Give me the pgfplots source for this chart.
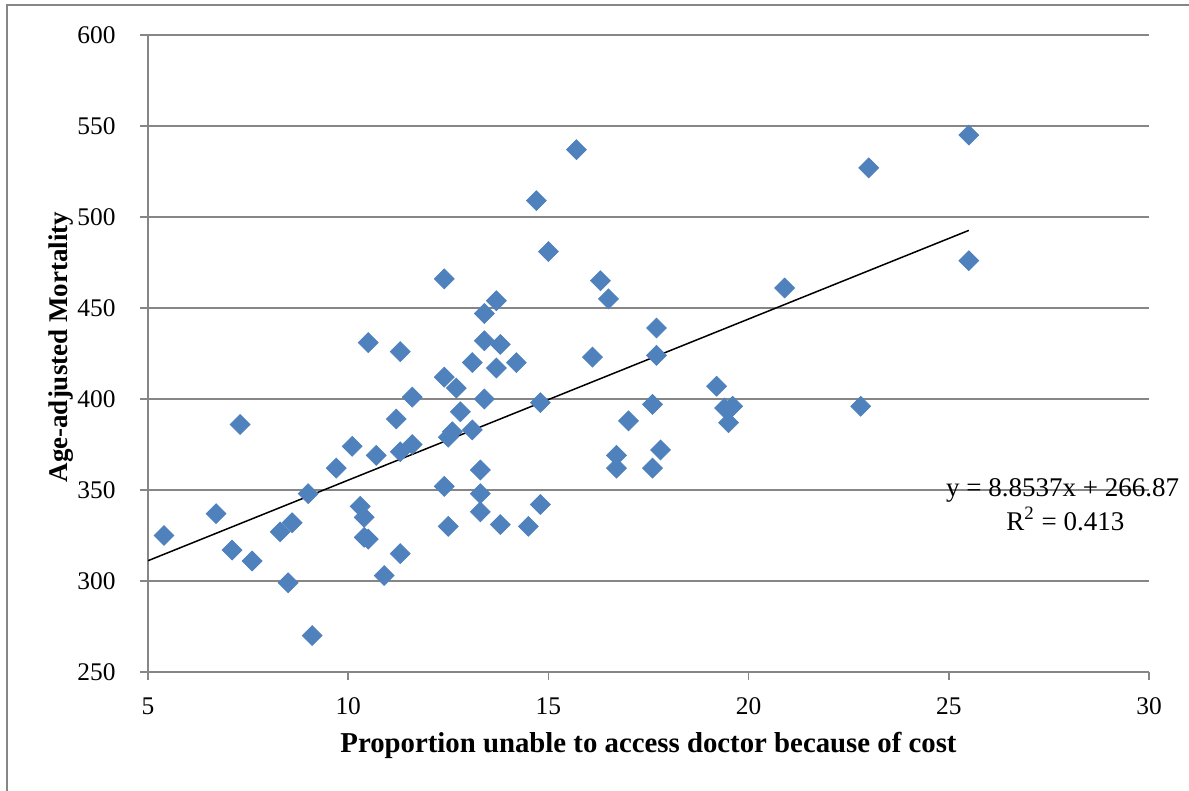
\documentclass[border=0pt]{standalone}
\usepackage{fontspec}
\setmainfont{Liberation Serif}
\usepackage{pgfplots}
\pgfplotsset{compat=1.18}
\definecolor{gridc}{RGB}{134,134,134}
\definecolor{ptc}{RGB}{79,129,189}
\begin{document}
\begin{tikzpicture}
\useasboundingbox (0,0) rectangle (594.5pt,395.5pt);
\draw[gridc, line width=0.75pt] (3.5pt,0) -- (3.5pt,393pt) -- (594.5pt,393pt);
\begin{axis}[
  scale only axis, width=500.5pt, height=318.5pt,
  at={(74pt,59.5pt)}, anchor=south west,
  xmin=5, xmax=30, ymin=250, ymax=600,
  xtick={5,10,15,20,25,30}, ytick={250,300,350,400,450,500,550,600},
  axis lines=left, axis line style={-, gridc, line width=0.75pt},
  tick align=outside, major tick length=4pt,
  tick style={gridc, line width=0.75pt},
  ymajorgrids, major grid style={gridc, line width=0.75pt},
  /pgf/number format/assume math mode=true,
  tick label style={font=\fontsize{12.7}{15}\selectfont},
  yticklabel style={anchor=east, inner sep=0pt, xshift=-12pt},
  xticklabel style={anchor=north, inner sep=0pt, yshift=-8.5pt},
  xlabel={Proportion unable to access doctor because of cost},
  ylabel={Age-adjusted Mortality},
  xlabel style={font=\fontsize{14.4}{16}\selectfont\bfseries, at={(axis description cs:0.5,-0.127)}, anchor=base},
  ylabel style={font=\fontsize{13.5}{16}\selectfont\bfseries, at={(axis description cs:-0.087,0.51)}, anchor=center},
  clip=false,
]
\addplot[only marks, mark=square*, mark size=3.5pt,
  mark options={rotate=45, fill=ptc, draw=ptc}] coordinates {
(5.4,325) (6.7,337) (7.3,386) (7.1,317) (7.6,311) (8.3,327) (8.6,332)
(8.5,299) (9.0,348) (9.1,270) (9.7,362) (10.1,374) (10.3,341) (10.4,335)
(10.4,324) (10.5,323) (10.5,431) (10.7,369) (10.9,303) (11.2,389) (11.3,426)
(11.3,371) (11.3,315) (11.6,375) (11.6,401) (12.4,466) (12.4,412) (12.4,352)
(12.5,330) (12.5,379) (12.6,382) (12.7,406) (12.8,393) (13.1,383) (13.1,420)
(13.3,361) (13.3,348) (13.3,338) (13.4,432) (13.4,447) (13.4,400) (13.7,454)
(13.7,417) (13.8,430) (13.8,331) (14.2,420) (14.5,330) (14.7,509) (14.8,398)
(14.8,342) (15.0,481) (15.7,537) (16.1,423) (16.3,465) (16.5,455) (16.7,369)
(16.7,362) (17.0,388) (17.6,362) (17.6,397) (17.7,439) (17.7,424) (17.8,372)
(19.2,407) (19.4,395) (19.5,387) (19.6,396) (20.9,461) (22.8,396) (23.0,527)
(25.5,545) (25.5,476)
};
\addplot[black, line width=0.75pt] coordinates {(5,311.14) (25.5,492.64)};
\node[anchor=base, font=\fontsize{13.5}{16}\selectfont] at (axis cs:27.84,346.2) {y = 8.8537x + 266.87};
\node[anchor=base, font=\fontsize{13.5}{16}\selectfont] at (axis cs:27.91,328.0) {R\textsuperscript{2} = 0.413};
\end{axis}
\end{tikzpicture}
\end{document}
